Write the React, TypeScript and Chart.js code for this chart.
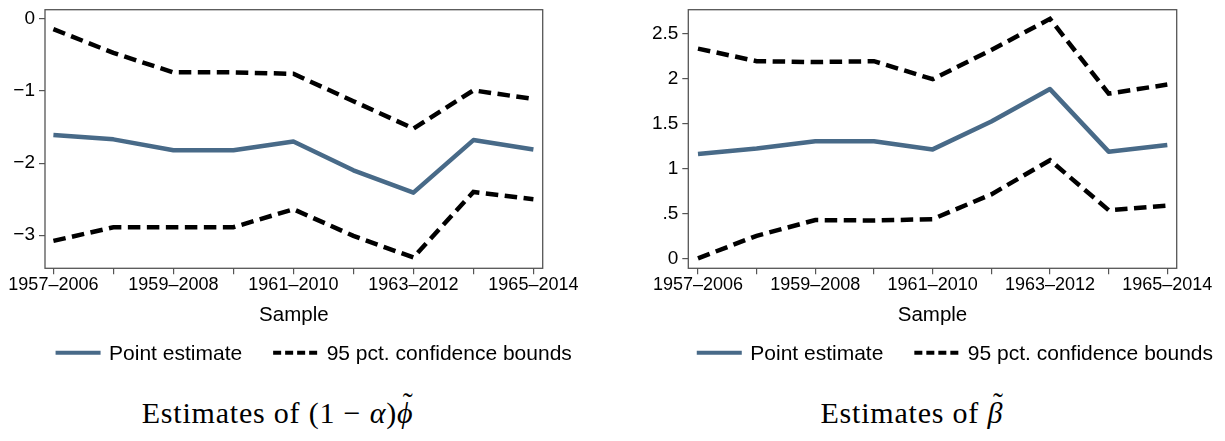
import React, { useEffect, useRef } from 'react';
import { Chart, registerables } from 'chart.js';

Chart.register(...registerables);

// ---------- data ----------
const samples = [
  '1957–2006', '1958–2007', '1959–2008', '1960–2009', '1961–2010',
  '1962–2011', '1963–2012', '1964–2013', '1965–2014',
];

const phiPoint = [-1.61, -1.67, -1.82, -1.82, -1.70, -2.10, -2.41, -1.68, -1.81];
const phiUpper = [-0.14, -0.47, -0.74, -0.74, -0.76, -1.14, -1.52, -0.99, -1.11];
const phiLower = [-3.08, -2.89, -2.89, -2.89, -2.64, -3.01, -3.31, -2.40, -2.50];

const betaPoint = [1.16, 1.22, 1.30, 1.30, 1.21, 1.52, 1.88, 1.185, 1.26];
const betaUpper = [2.33, 2.19, 2.18, 2.19, 1.99, 2.315, 2.66, 1.83, 1.93];
const betaLower = [0.0, 0.25, 0.425, 0.42, 0.435, 0.71, 1.09, 0.535, 0.585];

const phiTicks = [-3, -2, -1, 0];
const phiTickLabels = ['−3', '−2', '−1', '0'];
const betaTicks = [0, 0.5, 1, 1.5, 2, 2.5];
const betaTickLabels = ['0', '.5', '1', '1.5', '2', '2.5'];

const seriesLabels = ['Point estimate', '95 pct. confidence bounds'];
const xTitle = 'Sample';

// ---------- styles ----------
const FAMILY = '"Liberation Sans", Arial, Helvetica, sans-serif';
const BLUE = 'rgb(72,106,136)';
const AXIS = '#555555';
const TEXT = '#000000';

const framePlugin = {
  id: 'panelFrame',
  afterDatasetsDraw(chart: any) {
    const { ctx, chartArea } = chart;
    const { left, top, right, bottom } = chartArea;
    ctx.save();
    ctx.strokeStyle = AXIS;
    ctx.lineWidth = 1.3;
    ctx.strokeRect(left, top, right - left, bottom - top);
    ctx.restore();
  },
};

const legendPlugin = {
  id: 'sampleLegend',
  afterDraw(chart: any, _args: any, opts: any) {
    const ctx = chart.ctx;
    const ds = chart.data.datasets;
    ctx.save();
    ctx.font = `${opts.fontSize}px ${FAMILY}`;
    const items = opts.items.map((it: any) => ({
      ...it,
      text: ds[it.datasetIndex].label,
      color: ds[it.datasetIndex].borderColor,
    }));
    const widths = items.map((it: any) => ctx.measureText(it.text).width);
    let total = 0;
    items.forEach((_: any, i: number) => {
      total += opts.keyWidth + opts.keyGap + widths[i];
    });
    total += opts.itemGap * (items.length - 1);
    let x = opts.centerX - total / 2;
    items.forEach((it: any, i: number) => {
      ctx.beginPath();
      ctx.setLineDash(it.dash);
      ctx.lineWidth = it.lineWidth;
      ctx.strokeStyle = it.color;
      ctx.lineCap = 'butt';
      ctx.moveTo(x, opts.lineY);
      ctx.lineTo(x + opts.keyWidth, opts.lineY);
      ctx.stroke();
      x += opts.keyWidth + opts.keyGap;
      ctx.setLineDash([]);
      ctx.fillStyle = TEXT;
      ctx.textBaseline = 'middle';
      ctx.textAlign = 'left';
      ctx.fillText(it.text, x, opts.textY);
      x += widths[i] + opts.itemGap;
    });
    ctx.restore();
  },
};

type PanelProps = {
  point: number[];
  upper: number[];
  lower: number[];
  ticks: number[];
  tickLabels: string[];
  yMin: number;
  yMax: number;
  xMin: number;
  xMax: number;
  yAxisWidth: number;
  padRight: number;
  legendCenter: number;
  width: number;
  left: number;
};

const CANVAS_H = 372;
const PLOT_BOTTOM = 260.3;
const XAXIS_H = 59.5;

function Panel(p: PanelProps) {
  const ref = useRef<HTMLCanvasElement | null>(null);
  useEffect(() => {
    const toXY = (arr: number[]) => arr.map((y, i) => ({ x: i, y }));
    const chart = new Chart(ref.current as HTMLCanvasElement, {
      type: 'line',
      data: {
        datasets: [
          {
            label: seriesLabels[0],
            data: toXY(p.point),
            borderColor: BLUE,
            borderWidth: 4.5,
            pointRadius: 0,
            borderJoinStyle: 'round',
            borderCapStyle: 'butt',
            tension: 0,
            fill: false,
          },
          {
            label: seriesLabels[1],
            data: toXY(p.upper),
            borderColor: '#000000',
            borderWidth: 4.5,
            borderDash: [12.5, 6.5],
            pointRadius: 0,
            tension: 0,
            fill: false,
          },
          {
            label: seriesLabels[1],
            data: toXY(p.lower),
            borderColor: '#000000',
            borderWidth: 4.5,
            borderDash: [12.5, 6.5],
            pointRadius: 0,
            tension: 0,
            fill: false,
          },
        ],
      },
      options: {
        animation: false,
        responsive: false,
        maintainAspectRatio: false,
        layout: {
          padding: { top: 1.7, left: 0, right: p.padRight, bottom: CANVAS_H - PLOT_BOTTOM - XAXIS_H },
        },
        plugins: {
          legend: { display: false },
          tooltip: { enabled: false },
          sampleLegend: {
            centerX: p.legendCenter,
            lineY: 344.7,
            textY: 346,
            fontSize: 21,
            keyWidth: 45,
            keyGap: 8.5,
            itemGap: 31,
            items: [
              { datasetIndex: 0, dash: [], lineWidth: 4 },
              { datasetIndex: 1, dash: [8, 4], lineWidth: 4 },
            ],
          },
        } as any,
        scales: {
          x: {
            type: 'linear',
            min: p.xMin,
            max: p.xMax,
            afterBuildTicks: (ax: any) => {
              ax.ticks = samples.map((_, i) => ({ value: i }));
            },
            afterFit: (s: any) => {
              s.height = XAXIS_H;
              s.paddingLeft = 0;
              s.paddingRight = 0;
            },
            ticks: {
              autoSkip: false,
              maxRotation: 0,
              minRotation: 0,
              padding: 0,
              color: TEXT,
              font: { family: FAMILY, size: 18 },
              callback: (_v: any, i: number) => (i % 2 === 0 ? samples[i] : ''),
            },
            grid: { drawOnChartArea: false, tickLength: 6, color: AXIS, lineWidth: 1.2 },
            border: { display: false },
            title: {
              display: true,
              text: xTitle,
              color: TEXT,
              font: { family: FAMILY, size: 20.5 },
              padding: { top: 0, bottom: 0 },
            },
          },
          y: {
            type: 'linear',
            min: p.yMin,
            max: p.yMax,
            afterBuildTicks: (ax: any) => {
              ax.ticks = p.ticks.map((v) => ({ value: v }));
            },
            afterFit: (s: any) => {
              s.width = p.yAxisWidth;
              s.paddingTop = 0;
              s.paddingBottom = 0;
            },
            ticks: {
              autoSkip: false,
              padding: 4,
              color: TEXT,
              font: { family: FAMILY, size: 19 },
              callback: (_v: any, i: number) => p.tickLabels[i],
            },
            grid: { drawOnChartArea: false, tickLength: 6, color: AXIS, lineWidth: 1.2 },
            border: { display: false },
          },
        },
      } as any,
      plugins: [framePlugin, legendPlugin],
    });
    return () => chart.destroy();
  }, []);
  return (
    <canvas
      ref={ref}
      width={p.width}
      height={CANVAS_H}
      style={{ position: 'absolute', left: p.left, top: 0, width: p.width, height: CANVAS_H }}
    />
  );
}

const captionStyle: React.CSSProperties = {
  position: 'absolute',
  top: 387,
  width: 400,
  textAlign: 'center',
  fontFamily: '"Liberation Serif", "Times New Roman", serif',
  fontSize: 30,
  lineHeight: '36px',
  letterSpacing: '0.8px',
  color: '#000',
  whiteSpace: 'nowrap',
};

function Tilde({ children, shift }: { children: React.ReactNode; shift: number }) {
  return (
    <span style={{ position: 'relative', display: 'inline-block' }}>
      <i>{children}</i>
      <span
        style={{
          position: 'absolute',
          left: shift,
          right: -shift,
          top: '-0.34em',
          textAlign: 'center',
          fontStyle: 'normal',
        }}
      >
        ˜
      </span>
    </span>
  );
}

export default function App() {
  return (
    <div style={{ position: 'relative', width: 1209, height: 425, overflow: 'hidden', background: '#fff' }}>
      <Panel
        point={phiPoint}
        upper={phiUpper}
        lower={phiLower}
        ticks={phiTicks}
        tickLabels={phiTickLabels}
        yMin={-3.46}
        yMax={0.13}
        xMin={-0.14}
        xMax={8.155}
        yAxisWidth={37}
        padRight={77.3}
        legendCenter={305.7}
        width={612}
        left={0}
      />
      <Panel
        point={betaPoint}
        upper={betaUpper}
        lower={betaLower}
        ticks={betaTicks}
        tickLabels={betaTickLabels}
        yMin={-0.111}
        yMax={2.762}
        xMin={-0.165}
        xMax={8.16}
        yAxisWidth={68.3}
        padRight={40.3}
        legendCenter={334.9}
        width={597}
        left={612}
      />
      <div style={{ ...captionStyle, left: 269.5 - 200 }}>
        Estimates of (1 − <i>α</i>)<Tilde shift={3}>ϕ</Tilde>
      </div>
      <div style={{ ...captionStyle, left: 903.8 - 200 }}>
        Estimates of <Tilde shift={3}>β</Tilde>
      </div>
    </div>
  );
}
